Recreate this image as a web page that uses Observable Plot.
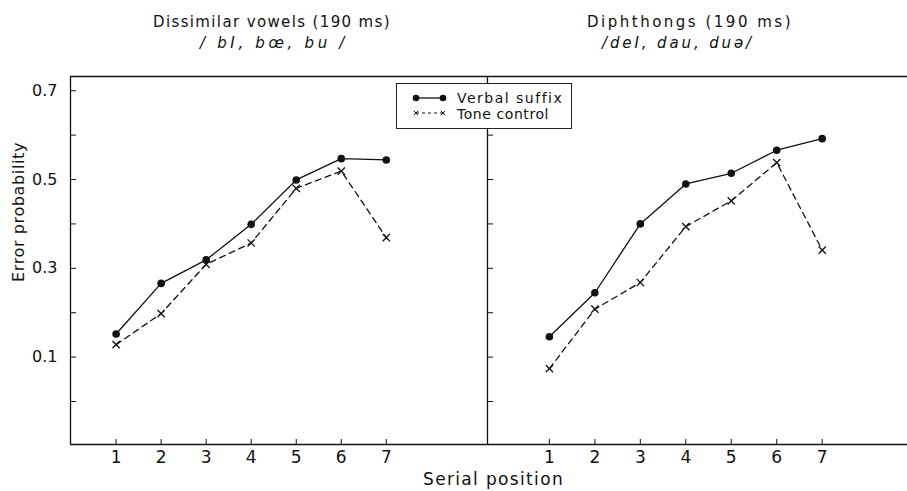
<!DOCTYPE html>
<html>
<head>
<meta charset="utf-8">
<script src="https://cdn.jsdelivr.net/npm/d3@7"></script>
<script src="https://cdn.jsdelivr.net/npm/@observablehq/plot@0.6"></script>
<style>
  html, body { margin: 0; padding: 0; background: #fff; }
  #wrap { position: relative; width: 907px; height: 491px; overflow: hidden; font-family: "DejaVu Sans", sans-serif; color: #111; }
  #wrap svg { position: absolute; top: 0; }
  .t { position: absolute; white-space: nowrap; line-height: 1; color: #111; }
  .it { font-style: italic; }
  #legend { position: absolute; left: 396px; top: 83px; width: 176px; height: 46px; box-sizing: border-box; border: 1.2px solid #222; background: #fff; }
  #legend .t { line-height: 12px; }
</style>
</head>
<body>
<div id="wrap"></div>
<script>
// ---- data ----
const positions = [1, 2, 3, 4, 5, 6, 7];
const dissimilarVerbal = [0.152, 0.266, 0.319, 0.399, 0.499, 0.547, 0.544];
const dissimilarTone   = [0.128, 0.198, 0.309, 0.357, 0.480, 0.519, 0.369];
const diphthongVerbal  = [0.146, 0.245, 0.400, 0.490, 0.514, 0.566, 0.592];
const diphthongTone    = [0.074, 0.208, 0.268, 0.394, 0.452, 0.538, 0.341];
const yTickValues = [0, 0.1, 0.2, 0.3, 0.4, 0.5, 0.6, 0.7];
const yTickLabels = [0.1, 0.3, 0.5, 0.7];
const panelTitles = ["Dissimilar vowels (190 ms)", "Diphthongs (190 ms)"];
const panelSubtitles = ["/ bI, bœ, bu /", "/deI, dau, duə/"];
const seriesNames = ["Verbal suffix", "Tone control"];

const wrap = document.getElementById("wrap");
const Y_DOMAIN = [-0.0968, 0.732];
const H = 491, MT = 76, MB = 47;
const ink = "#111";

function rows(vals) { return positions.map((p, i) => ({pos: p, v: vals[i]})); }

function panel({width, marginLeft, xDomain, verbal, tone, left, showYLabels}) {
  const [x0, x1] = xDomain;
  const [y0, y1] = Y_DOMAIN;
  const marks = [
    Plot.ruleY([y0], {x1: x0, x2: x1, stroke: ink, strokeWidth: 1.3}),
    Plot.ruleY([y1], {x1: x0, x2: x1, stroke: ink, strokeWidth: 1.3}),
    Plot.ruleX([x0], {y1: y0, y2: y1, stroke: ink, strokeWidth: 1.3}),
    Plot.axisY({ticks: yTickValues, tickSize: -6, tickFormat: () => "", stroke: ink, label: null}),
    Plot.axisX({ticks: positions, tickSize: -5, tickFormat: () => "", stroke: ink, label: null}),
    Plot.axisX({ticks: positions, tickSize: 0, tickPadding: 6, fontSize: 17, fill: ink, label: null, tickFormat: d => String(d)}),
    Plot.line(rows(verbal), {x: "pos", y: "v", stroke: ink, strokeWidth: 1.3}),
    Plot.line(rows(tone), {x: "pos", y: "v", stroke: ink, strokeWidth: 1.3, strokeDasharray: "6,4.5"}),
    Plot.dot(rows(verbal), {x: "pos", y: "v", r: 3.8, fill: ink, stroke: "none"}),
    Plot.dot(rows(tone), {x: "pos", y: "v", symbol: "times", r: 3.4, stroke: ink, strokeWidth: 1.3, fill: "none"})
  ];
  if (showYLabels) {
    marks.push(Plot.axisY({ticks: yTickLabels, tickSize: 0, tickPadding: 13, fontSize: 16, fill: ink, label: null, tickFormat: d3.format(".1f")}));
  }
  const svg = Plot.plot({
    width, height: H, marginTop: MT, marginBottom: MB, marginLeft, marginRight: 0,
    style: {fontFamily: "DejaVu Sans, sans-serif", background: "transparent", overflow: "visible"},
    x: {domain: xDomain, range: [marginLeft, width]},
    y: {domain: Y_DOMAIN},
    marks
  });
  svg.style.left = left + "px";
  return svg;
}

wrap.append(panel({width: 487, marginLeft: 70, xDomain: [-0.0127, 9.247], verbal: dissimilarVerbal, tone: dissimilarTone, left: 0, showYLabels: true}));
wrap.append(panel({width: 420, marginLeft: 0, xDomain: [-0.361, 8.876], verbal: diphthongVerbal, tone: diphthongTone, left: 487, showYLabels: false}));

// ---- texts ----
function addText(txt, {left, top, size, width, cls = "", rotate = false}) {
  const el = document.createElement("div");
  el.className = "t " + cls;
  el.textContent = txt;
  el.style.fontSize = size + "px";
  wrap.append(el);
  const w = el.getBoundingClientRect().width;
  const n = txt.length;
  if (width) el.style.letterSpacing = ((width - w) / n) + "px";
  el.style.left = left + "px";
  el.style.top = top + "px";
  if (rotate) {
    el.style.transformOrigin = "0 0";
    el.style.transform = "rotate(-90deg)";
  }
  return el;
}
addText(panelTitles[0], {left: 153, top: 15, size: 15, width: 238});
addText(panelSubtitles[0], {left: 200, top: 36, size: 15, width: 148, cls: "it"});
addText(panelTitles[1], {left: 587, top: 15, size: 15, width: 206});
addText(panelSubtitles[1], {left: 602, top: 36, size: 15, width: 152, cls: "it"});
addText("Serial position", {left: 423, top: 471, size: 17, width: 141});
addText("Error probability", {left: 11, top: 282, size: 16, width: 140, rotate: true});

// ---- legend ----
const lg = document.createElement("div");
lg.id = "legend";
lg.innerHTML = `
<svg width="176" height="46" style="position:absolute;left:-1px;top:-1px">
  <line x1="20" y1="15" x2="47" y2="15" stroke="${ink}" stroke-width="1.3"/>
  <circle cx="20" cy="15" r="3.3" fill="${ink}"/><circle cx="47" cy="15" r="3.3" fill="${ink}"/>
  <line x1="20" y1="30" x2="47" y2="30" stroke="${ink}" stroke-width="1" stroke-dasharray="3,3"/>
  <path d="M17.8,27.8L22.2,32.2M22.2,27.8L17.8,32.2M44.8,27.8L49.2,32.2M49.2,27.8L44.8,32.2" stroke="${ink}" stroke-width="1"/>
</svg>`;
wrap.append(lg);
seriesNames.forEach((name, i) => {
  const el = document.createElement("div");
  el.className = "t";
  el.textContent = name;
  el.style.fontSize = "14px";
  el.style.left = "60px";
  el.style.top = (i ? 24 : 8) + "px";
  lg.append(el);
  const w = el.getBoundingClientRect().width;
  el.style.letterSpacing = ((i ? 92 : 106) - w) / name.length + "px";
});
</script>
</body>
</html>
